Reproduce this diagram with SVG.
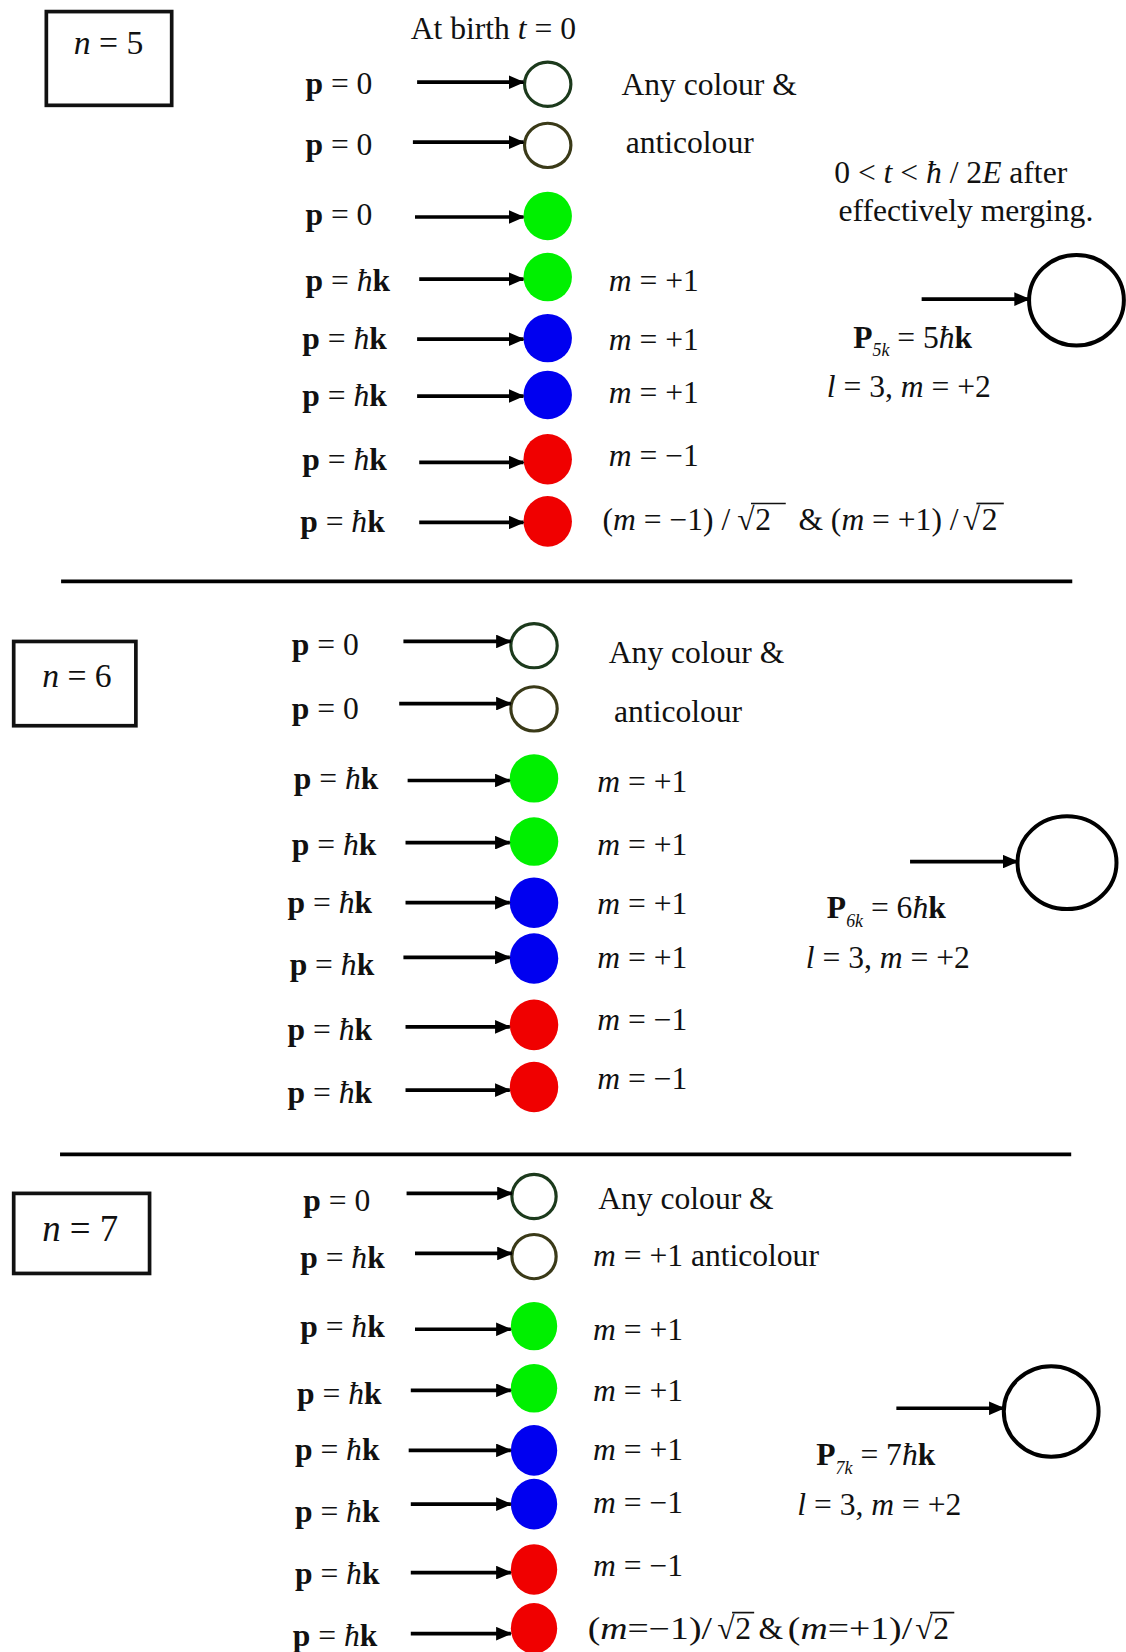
<svg xmlns="http://www.w3.org/2000/svg" width="1126" height="1652" viewBox="0 0 1126 1652">
<style>
text{font-family:"Liberation Serif","Times New Roman",serif;font-size:30px;fill:#111}
.i{font-style:italic}
.b{font-weight:bold}
.sub{font-size:17px;font-style:italic}
.nb{font-size:32px}
.box{fill:none;stroke:#111;stroke-width:3.5}
.ar{stroke:#000;stroke-width:3.5;fill:none;marker-end:url(#ah)}
.c0{fill:#fff;stroke:#1c3a1c;stroke-width:3}
.c1{fill:#fff;stroke:#3a3a18;stroke-width:3}
.g{fill:#00f000}
.bl{fill:#0000f0}
.r{fill:#f00000}
.big{fill:#fff;stroke:#000;stroke-width:3.8}
.sep{stroke:#000;stroke-width:3.5}
.ov{stroke:#111;stroke-width:1.6}
</style>
<defs>
<marker id="ah" markerWidth="15" markerHeight="13" refX="14" refY="6.5" orient="auto" markerUnits="userSpaceOnUse">
<path d="M0,0 L15,6.5 L0,13 z" fill="#000"/>
</marker>
</defs>
<rect width="1126" height="1652" fill="#fff"/>
<g transform="scale(1.0533)">
<!-- Section n=5 -->
<g id="box5"><rect class="box" x="44" y="11" width="119" height="89"/><text class="nb" x="70" y="51"><tspan class="i">n</tspan> = 5</text></g>
<text id="birth" x="390" y="37">At birth <tspan class="i">t</tspan> = 0</text>
<g id="s5-labels">
<text x="290" y="89"><tspan class="b">p</tspan> = 0</text>
<text x="290" y="147"><tspan class="b">p</tspan> = 0</text>
<text x="290" y="214"><tspan class="b">p</tspan> = 0</text>
<text x="290" y="276"><tspan class="b">p</tspan> = <tspan class="i">ħ</tspan><tspan class="b">k</tspan></text>
<text x="287" y="331"><tspan class="b">p</tspan> = <tspan class="i">ħ</tspan><tspan class="b">k</tspan></text>
<text x="287" y="385"><tspan class="b">p</tspan> = <tspan class="i">ħ</tspan><tspan class="b">k</tspan></text>
<text x="287" y="446"><tspan class="b">p</tspan> = <tspan class="i">ħ</tspan><tspan class="b">k</tspan></text>
<text x="285" y="505"><tspan class="b">p</tspan> = <tspan class="i">ħ</tspan><tspan class="b">k</tspan></text>
</g>
<g id="s5-nodes">
<ellipse class="c0" cx="520" cy="80" rx="22" ry="21"/>
<ellipse class="c1" cx="520" cy="138" rx="22" ry="21"/>
<ellipse class="g" cx="520" cy="205" rx="23" ry="23"/>
<ellipse class="g" cx="520" cy="263" rx="23" ry="23"/>
<ellipse class="bl" cx="520" cy="321" rx="23" ry="23"/>
<ellipse class="bl" cx="520" cy="375" rx="23" ry="23"/>
<ellipse class="r" cx="520" cy="436" rx="23" ry="24"/>
<ellipse class="r" cx="520" cy="495" rx="23" ry="24"/>
<ellipse id="merged5" class="big" cx="1022" cy="285" rx="45" ry="43"/>
</g>
<g id="s5-text">
<text x="590" y="90">Any colour &amp;</text>
<text x="594" y="145">anticolour</text>
<text x="578" y="276"><tspan class="i">m</tspan> = +1</text>
<text x="578" y="332"><tspan class="i">m</tspan> = +1</text>
<text x="578" y="383"><tspan class="i">m</tspan> = +1</text>
<text x="578" y="442"><tspan class="i">m</tspan> = −1</text>
<text y="503"><tspan x="572">(<tspan class="i">m</tspan> = −1) /</tspan><tspan x="700">√</tspan><tspan x="717">2</tspan><tspan x="758">&amp; (<tspan class="i">m</tspan> = +1) /</tspan><tspan x="914">√</tspan><tspan x="932">2</tspan></text>
<line class="ov" x1="713" y1="478" x2="746" y2="478"/>
<line class="ov" x1="927" y1="478" x2="953" y2="478"/>
<text x="792" y="174">0 &lt; <tspan class="i">t</tspan> &lt; <tspan class="i">ħ</tspan> / 2<tspan class="i">E</tspan> after</text>
<text x="796" y="210">effectively merging.</text>
<text x="810" y="330"><tspan class="b">P</tspan><tspan class="sub" dy="8">5k</tspan><tspan dy="-8"> = 5</tspan><tspan class="i">ħ</tspan><tspan class="b">k</tspan></text>
<text x="785" y="377"><tspan class="i">l</tspan> = 3,  <tspan class="i">m</tspan> = +2</text>
</g>
<line class="sep" x1="58" y1="552" x2="1018" y2="552"/>

<!-- Section n=6 -->
<g id="box6"><rect class="box" x="13" y="609" width="116" height="80"/><text class="nb" x="40" y="652"><tspan class="i">n</tspan> = 6</text></g>
<g id="s6-labels">
<text x="277" y="622"><tspan class="b">p</tspan> = 0</text>
<text x="277" y="683"><tspan class="b">p</tspan> = 0</text>
<text x="279" y="749"><tspan class="b">p</tspan> = <tspan class="i">ħ</tspan><tspan class="b">k</tspan></text>
<text x="277" y="812"><tspan class="b">p</tspan> = <tspan class="i">ħ</tspan><tspan class="b">k</tspan></text>
<text x="273" y="867"><tspan class="b">p</tspan> = <tspan class="i">ħ</tspan><tspan class="b">k</tspan></text>
<text x="275" y="926"><tspan class="b">p</tspan> = <tspan class="i">ħ</tspan><tspan class="b">k</tspan></text>
<text x="273" y="987"><tspan class="b">p</tspan> = <tspan class="i">ħ</tspan><tspan class="b">k</tspan></text>
<text x="273" y="1047"><tspan class="b">p</tspan> = <tspan class="i">ħ</tspan><tspan class="b">k</tspan></text>
</g>
<g id="s6-nodes">
<ellipse class="c0" cx="507" cy="613" rx="22" ry="21"/>
<ellipse class="c1" cx="507" cy="673" rx="22" ry="21"/>
<ellipse class="g" cx="507" cy="739" rx="23" ry="23"/>
<ellipse class="g" cx="507" cy="799" rx="23" ry="23"/>
<ellipse class="bl" cx="507" cy="857" rx="23" ry="24"/>
<ellipse class="bl" cx="507" cy="910" rx="23" ry="24"/>
<ellipse class="r" cx="507" cy="973" rx="23" ry="24"/>
<ellipse class="r" cx="507" cy="1032" rx="23" ry="24"/>
<ellipse id="merged6" class="big" cx="1013" cy="819" rx="47" ry="44"/>
</g>
<g id="s6-text">
<text x="578" y="629">Any colour &amp;</text>
<text x="583" y="685">anticolour</text>
<text x="567" y="752"><tspan class="i">m</tspan> = +1</text>
<text x="567" y="812"><tspan class="i">m</tspan> = +1</text>
<text x="567" y="868"><tspan class="i">m</tspan> = +1</text>
<text x="567" y="919"><tspan class="i">m</tspan> = +1</text>
<text x="567" y="978"><tspan class="i">m</tspan> = −1</text>
<text x="567" y="1034"><tspan class="i">m</tspan> = −1</text>
<text x="785" y="872"><tspan class="b">P</tspan><tspan class="sub" dy="8">6k</tspan><tspan dy="-8"> = 6</tspan><tspan class="i">ħ</tspan><tspan class="b">k</tspan></text>
<text x="765" y="919"><tspan class="i">l</tspan> = 3, <tspan class="i">m</tspan> = +2</text>
</g>
<line class="sep" x1="57" y1="1096" x2="1017" y2="1096"/>

<!-- Section n=7 -->
<g id="box7"><rect class="box" x="13" y="1133" width="129" height="76"/><text x="40" y="1178" style="font-size:35px"><tspan class="i">n</tspan> = 7</text></g>
<g id="s7-labels">
<text x="288" y="1150"><tspan class="b">p</tspan> = 0</text>
<text x="285" y="1204"><tspan class="b">p</tspan> = <tspan class="i">ħ</tspan><tspan class="b">k</tspan></text>
<text x="285" y="1269"><tspan class="b">p</tspan> = <tspan class="i">ħ</tspan><tspan class="b">k</tspan></text>
<text x="282" y="1333"><tspan class="b">p</tspan> = <tspan class="i">ħ</tspan><tspan class="b">k</tspan></text>
<text x="280" y="1386"><tspan class="b">p</tspan> = <tspan class="i">ħ</tspan><tspan class="b">k</tspan></text>
<text x="280" y="1445"><tspan class="b">p</tspan> = <tspan class="i">ħ</tspan><tspan class="b">k</tspan></text>
<text x="280" y="1504"><tspan class="b">p</tspan> = <tspan class="i">ħ</tspan><tspan class="b">k</tspan></text>
<text x="278" y="1563"><tspan class="b">p</tspan> = <tspan class="i">ħ</tspan><tspan class="b">k</tspan></text>
</g>
<g id="s7-nodes">
<ellipse class="c0" cx="507" cy="1136" rx="21" ry="21"/>
<ellipse class="c1" cx="507" cy="1193" rx="21" ry="21"/>
<ellipse class="g" cx="507" cy="1259" rx="22" ry="23"/>
<ellipse class="g" cx="507" cy="1318" rx="22" ry="23"/>
<ellipse class="bl" cx="507" cy="1377" rx="22" ry="24"/>
<ellipse class="bl" cx="507" cy="1428" rx="22" ry="24"/>
<ellipse class="r" cx="507" cy="1490" rx="22" ry="24"/>
<ellipse class="r" cx="507" cy="1546" rx="22" ry="24"/>
<ellipse id="merged7" class="big" cx="998" cy="1340" rx="45" ry="43"/>
</g>
<g id="s7-text">
<text x="568" y="1148">Any colour &amp;</text>
<text x="563" y="1202"><tspan class="i">m</tspan> = +1 anticolour</text>
<text x="563" y="1272"><tspan class="i">m</tspan> = +1</text>
<text x="563" y="1330"><tspan class="i">m</tspan> = +1</text>
<text x="563" y="1386"><tspan class="i">m</tspan> = +1</text>
<text x="563" y="1436"><tspan class="i">m</tspan> = −1</text>
<text x="563" y="1496"><tspan class="i">m</tspan> = −1</text>
<text y="1556"><tspan x="558" textLength="118" lengthAdjust="spacingAndGlyphs">(<tspan class="i">m</tspan>=−1)/</tspan><tspan x="681">√</tspan><tspan x="698">2</tspan><tspan x="720">&amp;</tspan><tspan x="748" textLength="118" lengthAdjust="spacingAndGlyphs">(<tspan class="i">m</tspan>=+1)/</tspan><tspan x="869">√</tspan><tspan x="886">2</tspan></text>
<line class="ov" x1="695" y1="1531" x2="716" y2="1531"/>
<line class="ov" x1="883" y1="1531" x2="906" y2="1531"/>
<text x="775" y="1391"><tspan class="b">P</tspan><tspan class="sub" dy="8">7k</tspan><tspan dy="-8"> = 7</tspan><tspan class="i">ħ</tspan><tspan class="b">k</tspan></text>
<text x="757" y="1438"><tspan class="i">l</tspan> = 3, <tspan class="i">m</tspan> = +2</text>
</g>

<!-- Connectors -->
<g id="connectors">
<line class="ar" x1="396" y1="78" x2="497" y2="78"/>
<line class="ar" x1="392" y1="135" x2="497" y2="135"/>
<line class="ar" x1="394" y1="206" x2="497" y2="206"/>
<line class="ar" x1="398" y1="265" x2="497" y2="265"/>
<line class="ar" x1="396" y1="322" x2="497" y2="322"/>
<line class="ar" x1="396" y1="376" x2="497" y2="376"/>
<line class="ar" x1="398" y1="439" x2="497" y2="439"/>
<line class="ar" x1="398" y1="496" x2="497" y2="496"/>
<line class="ar" x1="875" y1="284" x2="977" y2="284"/>

<line class="ar" x1="383" y1="609" x2="485" y2="609"/>
<line class="ar" x1="379" y1="668" x2="485" y2="668"/>
<line class="ar" x1="387" y1="741" x2="484" y2="741"/>
<line class="ar" x1="385" y1="800" x2="484" y2="800"/>
<line class="ar" x1="385" y1="857" x2="484" y2="857"/>
<line class="ar" x1="383" y1="909" x2="484" y2="909"/>
<line class="ar" x1="385" y1="975" x2="484" y2="975"/>
<line class="ar" x1="385" y1="1035" x2="484" y2="1035"/>
<line class="ar" x1="864" y1="818" x2="966" y2="818"/>

<line class="ar" x1="386" y1="1133" x2="486" y2="1133"/>
<line class="ar" x1="394" y1="1190" x2="486" y2="1190"/>
<line class="ar" x1="394" y1="1262" x2="485" y2="1262"/>
<line class="ar" x1="390" y1="1320" x2="485" y2="1320"/>
<line class="ar" x1="388" y1="1377" x2="485" y2="1377"/>
<line class="ar" x1="390" y1="1428" x2="485" y2="1428"/>
<line class="ar" x1="390" y1="1493" x2="485" y2="1493"/>
<line class="ar" x1="390" y1="1551" x2="485" y2="1551"/>
<line class="ar" x1="851" y1="1337" x2="953" y2="1337"/>
</g>
</g>
</svg>
